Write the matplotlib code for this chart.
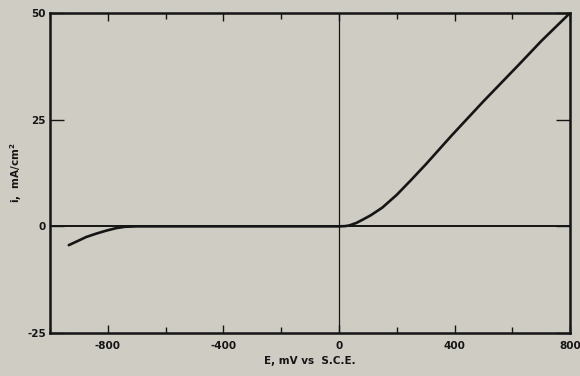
import matplotlib
matplotlib.use("Agg")
import matplotlib.pyplot as plt
from matplotlib.ticker import MultipleLocator

plt.rcParams["axes.unicode_minus"] = False

# polarization curve
E_mV = [-935, -900, -875, -840, -805, -770, -740, -700, -400, 0,
        20, 35, 60, 80, 110, 150, 200, 250, 300, 390,
        500, 620, 700, 800]
i_mA = [-4.4, -3.3, -2.5, -1.7, -1.0, -0.4, -0.1, 0.0, 0.0, 0.0,
        0.05, 0.2, 0.8, 1.5, 2.6, 4.4, 7.4, 10.9, 14.5, 21.3,
        29.3, 37.7, 43.4, 50.0]

x_labels = [-800, -400, 0, 400, 800]
y_labels = [-25, 0, 25, 50]

bg = "#cfccc4"
ink = "#151515"

fig = plt.figure(figsize=(5.8, 3.76), dpi=100, facecolor=bg)
ax = fig.add_axes([0.0862, 0.114, 0.897, 0.852], facecolor=bg)

ax.plot(E_mV, i_mA, color=ink, lw=1.9, solid_capstyle="round", solid_joinstyle="round")
ax.axhline(0, color=ink, lw=1.4)
ax.axvline(0, color=ink, lw=0.9)

ax.set_xlim(-1000, 800)
ax.set_ylim(-25, 50)

ax.set_xticks(x_labels)
ax.xaxis.set_minor_locator(MultipleLocator(200))
ax.set_yticks(y_labels)
ax.tick_params(axis="both", which="both", direction="in", top=True, right=True,
               colors=ink, labelsize=7.5, width=1.0)
ax.tick_params(axis="x", which="major", length=6, pad=6)
ax.tick_params(axis="x", which="minor", length=4)
ax.tick_params(axis="y", which="major", length=10, pad=3)
for lab in ax.get_xticklabels() + ax.get_yticklabels():
    lab.set_fontweight("bold")

for s in ax.spines.values():
    s.set_linewidth(1.8)
    s.set_color(ink)

ax.set_xlabel("E, mV vs  S.C.E.", fontsize=7.5, fontweight="bold", color=ink, labelpad=3)
ax.set_ylabel("i,  mA/cm$^\\mathbf{2}$", fontsize=7.5, fontweight="bold", color=ink, labelpad=2)

fig.savefig("out.png", dpi=100, facecolor=bg)
